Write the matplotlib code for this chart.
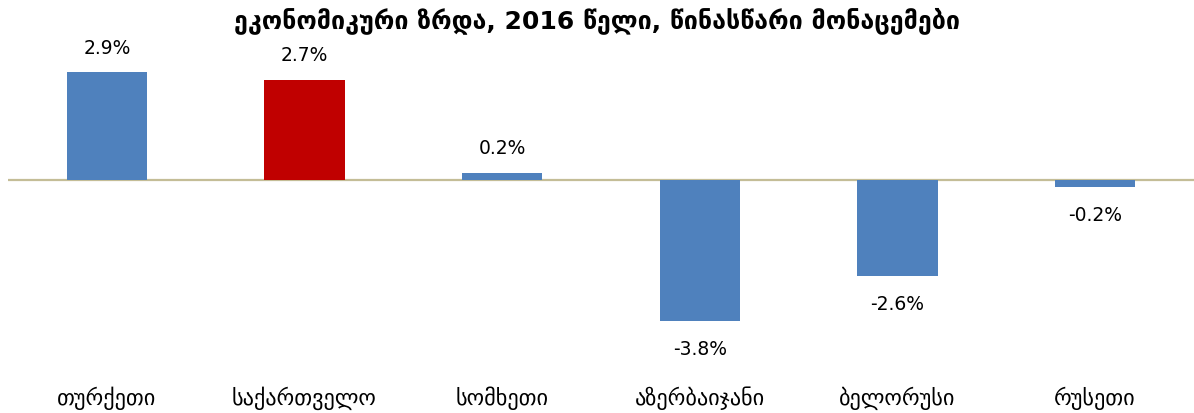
import matplotlib.pyplot as plt
import numpy as np

plt.rcParams['font.family'] = ['DejaVu Sans']

title = 'ეკონომიკური ზრდა, 2016 წელი, წინასწარი მონაცემები'
countries = ['თურქეთი', 'საქართველო', 'სომხეთი', 'აზერბაიჯანი', 'ბელორუსი', 'რუსეთი']
growth = [2.9, 2.7, 0.2, -3.8, -2.6, -0.2]
highlight = 'საქართველო'

colors = ['#C00000' if c == highlight else '#4F81BD' for c in countries]

fig = plt.figure(figsize=(11.94, 4.14), dpi=100)
ax = fig.add_axes([8 / 1194, 0.0966, 1186 / 1194, 0.807])

x = np.arange(len(countries))
ax.bar(x, growth, width=0.405, color=colors, zorder=2)
ax.axhline(0, color='#C4BD97', linewidth=1.6, zorder=1)

for xi, v in zip(x, growth):
    if v >= 0:
        ax.text(xi, v + 0.42, f'{v:.1f}%', ha='center', va='bottom', fontsize=13.5)
    else:
        ax.text(xi, v - 0.48, f'{v:.1f}%', ha='center', va='top', fontsize=13.5)

ax.set_xlim(-0.5, len(countries) - 0.5)
ax.set_ylim(-5.2, 3.8)
ax.set_xticks(x)
ax.set_xticklabels(countries, fontsize=16)
ax.tick_params(axis='x', length=0, pad=9)
ax.set_yticks([])
for s in ax.spines.values():
    s.set_visible(False)

fig.text(0.5, 0.95, title, ha='center', va='center', fontsize=18, fontweight='bold')

fig.savefig('out.png', dpi=100)
